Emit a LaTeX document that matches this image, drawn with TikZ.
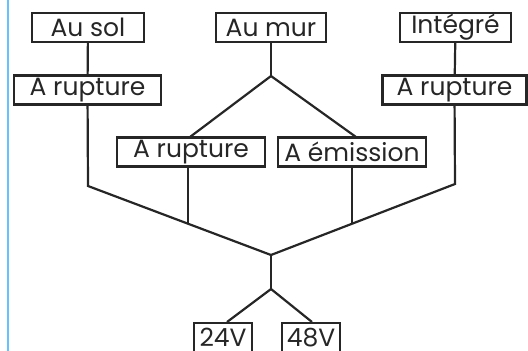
\documentclass[tikz,border=0pt]{standalone}
\usepackage{fontspec}
\setmainfont{Poppins}
\usetikzlibrary{positioning}

\tikzset{
  boite/.style={draw, line width=2.3pt, inner sep=0pt, minimum height=29pt,
    font=\fontsize{25}{25}\selectfont\color{black!85}},
}

\begin{document}
\begin{tikzpicture}[
x=1pt, y=-1pt,
line width=2.2pt,
color=black!85,
]
\useasboundingbox (0,0) rectangle (528,351);
% marge bleue
\draw[color=blue!40!cyan!60, line width=1.5pt] (8,-5) -- (8,356);

% nodes
\node[boite, minimum width=112pt] (sol) at (88,27.5) {Au sol};
\node[boite, minimum width=110pt] (mur) at (271,27.5) {Au mur};
\node[boite, minimum width=111pt] (integre) at (455.5,27.5) {Intégré};
\node[boite, minimum width=147pt] (ruptG) at (87.5,90) {A rupture};
\node[boite, minimum width=144pt] (ruptD) at (454.5,90) {A rupture};
\node[boite, minimum width=148pt] (ruptM) at (191,152) {A rupture};
\node[boite, minimum width=148pt] (emission) at (352,152) {A émission};
\node[boite, minimum width=58pt] (v24) at (223,337.5) {24V};
\node[boite, minimum width=58pt] (v48) at (311,337.5) {48V};

% points de jonction
\coordinate (jmur) at (271,76);
\coordinate (hM) at (190,137);
\coordinate (hE) at (356,137);
\coordinate (bM) at (188,167);
\coordinate (cG) at (88,186);
\coordinate (cM) at (188,224);
\coordinate (cE) at (352,224);
\coordinate (cD) at (455,184);
\coordinate (jbas) at (271,255);
\coordinate (jalim) at (271,289);
\coordinate (h24) at (227,322);
\coordinate (h48) at (312,322);

% arrows
\draw (sol) -- (ruptG);
\draw (integre) -- (ruptD);
\draw (mur) -- (jmur);
\draw (jmur) -- (hM);
\draw (jmur) -- (hE);
\draw (ruptG) -- (cG) -- (jbas);
\draw (ruptD) -- (cD) -- (jbas);
\draw (bM) -- (cM);
\draw (emission) -- (cE);
\draw (jbas) -- (jalim);
\draw (jalim) -- (h24);
\draw (jalim) -- (h48);
\end{tikzpicture}
\end{document}
